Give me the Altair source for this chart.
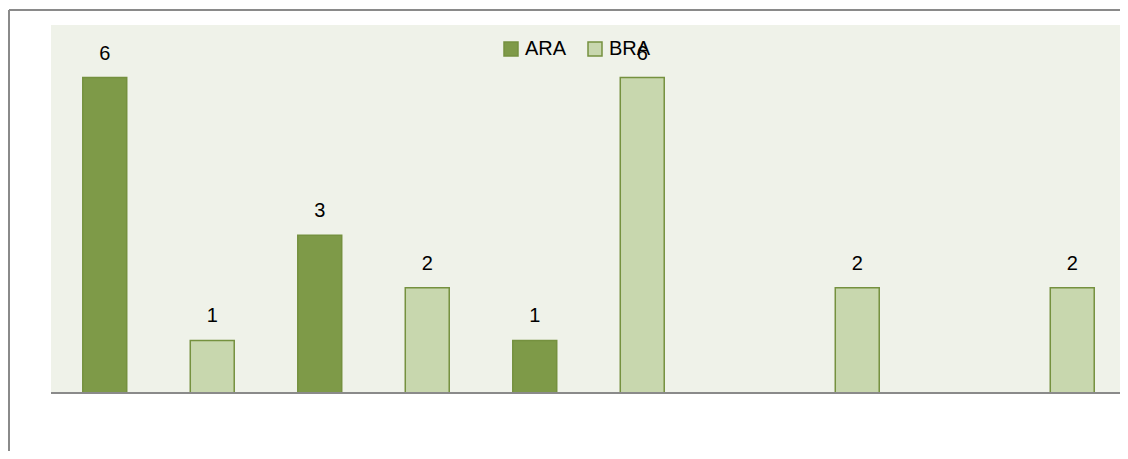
import altair as alt
import pandas as pd

categories = ["1", "2", "3", "4", "5"]
series_names = ["ARA", "BRA"]
ara_values = [6, 3, 1, None, None]
bra_values = [1, 2, 6, 2, 2]

rows = []
for c, a, b in zip(categories, ara_values, bra_values):
    if a is not None:
        rows.append({"cat": c, "series": "ARA", "value": a})
    if b is not None:
        rows.append({"cat": c, "series": "BRA", "value": b})
df = pd.DataFrame(rows)

FONT = "Liberation Sans"
PLOT_W = 1067
x_enc = alt.X("cat:N", sort=categories,
              scale=alt.Scale(paddingInner=0, paddingOuter=0, range=[0, 1075]),
              axis=None)
xo_enc = alt.XOffset("series:N", sort=series_names,
                     scale=alt.Scale(paddingInner=0.591, paddingOuter=0.2955))
y_enc = alt.Y("value:Q", scale=alt.Scale(domain=[0, 7]), axis=None)

base = alt.Chart(df)

bars = base.mark_bar(stroke="#75913f", strokeWidth=1.5).encode(
    x=x_enc,
    xOffset=xo_enc,
    y=y_enc,
    color=alt.Color("series:N", sort=series_names,
                    scale=alt.Scale(domain=series_names, range=["#7e9a48", "#c8d7ae"]),
                    legend=alt.Legend(title=None, orient="none", legendX=450, legendY=14,
                                      direction="horizontal", symbolType="square",
                                      symbolSize=196, symbolStrokeColor="#75913f",
                                      symbolStrokeWidth=1.5, labelFontSize=20,
                                      labelFont=FONT, labelColor="#000000",
                                      labelOffset=4, columnPadding=18, padding=0)),
)

labels = base.mark_text(baseline="alphabetic", dy=-18, fontSize=20, font=FONT,
                        color="#000000").encode(
    x=x_enc,
    xOffset=xo_enc,
    y=y_enc,
    text=alt.Text("value:Q"),
)

frame_data = alt.Data(values=[{"k": 1}])
plot_bg = alt.Chart(frame_data).mark_rect(color="#eff2e9").encode(
    x=alt.value(0), x2=alt.value(1069), y=alt.value(0), y2=alt.value(368))
axis_line = alt.Chart(frame_data).mark_rule(color="#8a8a8a", strokeWidth=2).encode(
    x=alt.value(0), x2=alt.value(1069), y=alt.value(368))
top_line = alt.Chart(frame_data).mark_rule(color="#8a8a8a", strokeWidth=2).encode(
    x=alt.value(-42), x2=alt.value(1077), y=alt.value(-15))
left_line = alt.Chart(frame_data).mark_rule(color="#8a8a8a", strokeWidth=2).encode(
    x=alt.value(-42), y=alt.value(-15), y2=alt.value(440))

chart = alt.layer(plot_bg, top_line, left_line, bars, axis_line, labels).properties(
    width=PLOT_W, height=368,
    autosize=alt.AutoSizeParams(type="none"),
    padding={"left": 43, "top": 17, "right": 2, "bottom": 58},
    background="#ffffff",
).configure_view(stroke=None)

chart.save("out.html", embed_options={"renderer": "svg", "actions": False})
